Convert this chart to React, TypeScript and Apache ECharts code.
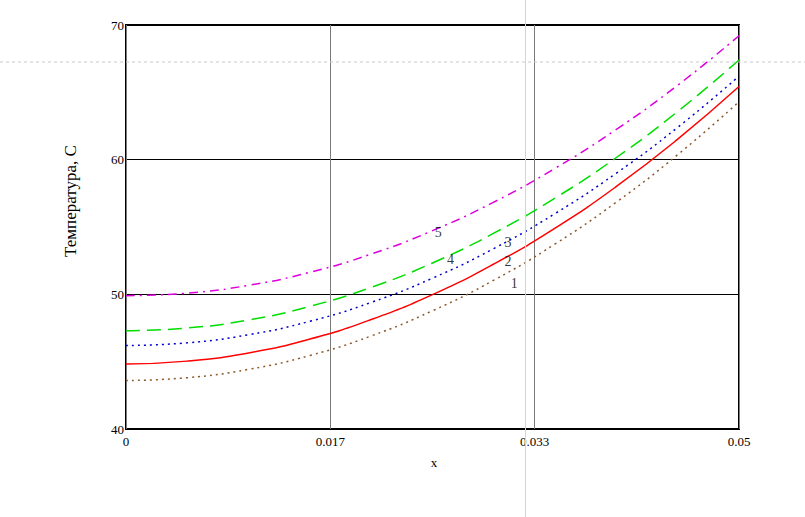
import React, { useEffect, useRef } from "react";
import * as echarts from "echarts";

const xValues = [0, 0.005, 0.01, 0.015, 0.02, 0.025, 0.03, 0.035, 0.04, 0.045, 0.05];
const curve1 = [43.6, 43.81, 44.43, 45.46, 46.91, 48.78, 51.05, 53.74, 56.85, 60.37, 64.3];
const curve2 = [44.83, 45.04, 45.65, 46.68, 48.13, 49.98, 52.25, 54.92, 58.01, 61.52, 65.43];
const curve3 = [46.2, 46.4, 47.0, 48.0, 49.4, 51.2, 53.4, 56.0, 59.0, 62.4, 66.2];
const curve4 = [47.3, 47.5, 48.1, 49.11, 50.52, 52.33, 54.54, 57.15, 60.16, 63.58, 67.4];
const curve5 = [49.9, 50.09, 50.67, 51.64, 52.99, 54.73, 56.85, 59.36, 62.25, 65.53, 69.2];
const curveLabels: [number, number, string][] = [
  [0.0255, 54.57, "5"],
  [0.0265, 52.57, "4"],
  [0.0312, 53.83, "3"],
  [0.0312, 52.42, "2"],
  [0.0317, 50.78, "1"],
];
const xTickLabels: Record<string, string> = { "0": "0", "1": "0.017", "2": "0.033", "3": "0.05" };
const yAxisTitle = "Температура, С";
const xAxisTitle = "x";

const FONT = "'Liberation Serif', 'DejaVu Serif', serif";

export default function App() {
  const ref = useRef<HTMLDivElement>(null);
  useEffect(() => {
    if (!ref.current) return;
    const chart = echarts.init(ref.current, null, { renderer: "svg" });
    const mk = (d: number[]) => xValues.map((x, i) => [x, d[i]]);
    const step = 0.05 / 3;
    chart.setOption({
      animation: false,
      backgroundColor: "#ffffff",
      grid: {
        left: 126,
        right: 66,
        top: 25,
        bottom: 88,
        show: true,
        borderColor: "#000000",
        borderWidth: 2,
        backgroundColor: "transparent",
      },
      xAxis: {
        type: "value",
        min: 0,
        max: 0.05,
        interval: step,
        axisLine: { show: false },
        axisTick: { show: false },
        splitLine: { show: true, lineStyle: { color: "#7a7a7a", width: 1 } },
        axisLabel: {
          fontFamily: FONT,
          fontSize: 13,
          color: "#000",
          margin: 6,
          formatter: (v: number) => {
            const k = Math.round(v / step);
            return xTickLabels[String(k)] ?? "";
          },
        },
      },
      yAxis: {
        type: "value",
        min: 40,
        max: 70,
        interval: 10,
        axisLine: { show: false },
        axisTick: { show: false },
        splitLine: { show: true, lineStyle: { color: "#000000", width: 1 } },
        axisLabel: { fontFamily: FONT, fontSize: 13, color: "#000", margin: 2 },
      },
      series: [
        {
          type: "line",
          data: mk(curve1),
          smooth: true,
          symbol: "none",
          lineStyle: { color: "#8b5a2b", width: 1.5, type: [2, 4] },
          z: 3,
        },
        {
          type: "line",
          data: mk(curve2),
          smooth: true,
          symbol: "none",
          lineStyle: { color: "#ff0000", width: 1.5, type: "solid" },
          z: 3,
        },
        {
          type: "line",
          data: mk(curve3),
          smooth: true,
          symbol: "none",
          lineStyle: { color: "#0000cc", width: 1.5, type: [2, 4] },
          z: 3,
        },
        {
          type: "line",
          data: mk(curve4),
          smooth: true,
          symbol: "none",
          lineStyle: { color: "#00dd00", width: 1.5, type: [14, 7] },
          z: 3,
        },
        {
          type: "line",
          data: mk(curve5),
          smooth: true,
          symbol: "none",
          lineStyle: { color: "#dd00dd", width: 1.5, type: [9, 5, 2, 5] },
          z: 3,
        },
        {
          type: "scatter",
          data: curveLabels.map((c) => ({ value: [c[0], c[1]], name: c[2] })),
          symbolSize: 1,
          itemStyle: { color: "rgba(0,0,0,0)" },
          silent: true,
          label: {
            show: true,
            position: [0, 0],
            align: "center",
            verticalAlign: "middle",
            formatter: (p: any) => p.name,
            fontFamily: FONT,
            fontSize: 14,
            color: "#000000",
          },
          z: 4,
        },
      ],
      graphic: [
        {
          type: "text",
          x: 70,
          y: 201,
          rotation: Math.PI / 2,
          style: {
            text: yAxisTitle,
            fontFamily: FONT,
            fontSize: 17,
            fill: "#000",
            align: "center",
            verticalAlign: "middle",
          },
        },
        {
          type: "text",
          x: 434,
          y: 462,
          style: {
            text: xAxisTitle,
            fontFamily: FONT,
            fontSize: 13,
            fill: "#000",
            align: "center",
            verticalAlign: "middle",
          },
        },
        {
          type: "line",
          shape: { x1: 0, y1: 62, x2: 805, y2: 62 },
          style: { stroke: "#c8c8c8", lineWidth: 1, lineDash: [3, 3] },
          z: 10,
        },
        {
          type: "line",
          shape: { x1: 525.5, y1: 0, x2: 525.5, y2: 517 },
          style: { stroke: "#d4d4d4", lineWidth: 1 },
          z: 10,
        },
      ],
    });
    return () => chart.dispose();
  }, []);
  return (
    <div
      ref={ref}
      style={{ position: "fixed", left: 0, top: 0, width: 805, height: 517 }}
    />
  );
}
